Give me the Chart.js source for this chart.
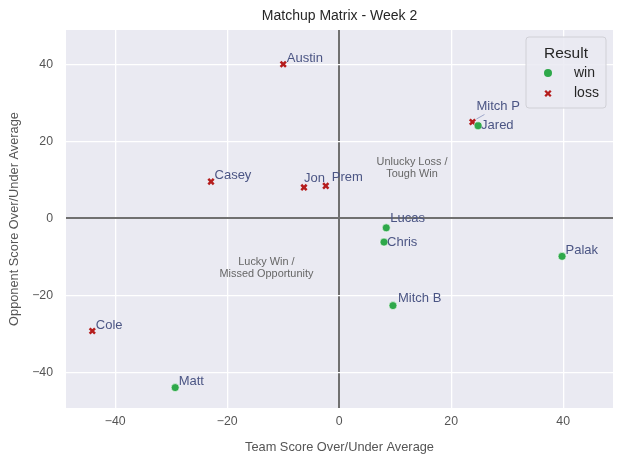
<!DOCTYPE html>
<html>
<head>
<meta charset="utf-8">
<script src="https://cdn.jsdelivr.net/npm/chart.js@4.4.0/dist/chart.umd.min.js"></script>
<style>
html, body { margin: 0; padding: 0; background: #fff; }
#wrap { width: 624px; height: 464px; }
</style>
</head>
<body>
<div id="wrap"><canvas id="matchupChart" width="624" height="464"></canvas></div>
<script>
// data
var players = ['Austin', 'Casey', 'Jon', 'Prem', 'Mitch P', 'Cole', 'Jared', 'Lucas', 'Chris', 'Palak', 'Mitch B', 'Matt'];
var teamDiff = [-10.0, -22.9, -6.3, -2.4, 23.8, -44.1, 24.8, 8.4, 8.0, 39.8, 9.6, -29.3];
var oppDiff = [40.0, 9.5, 8.0, 8.4, 25.0, -29.3, 24.0, -2.5, -6.2, -9.9, -22.7, -44.0];
var results = ['loss', 'loss', 'loss', 'loss', 'loss', 'loss', 'win', 'win', 'win', 'win', 'win', 'win'];
var resultOrder = ['win', 'loss'];
var xTicks = [-40, -20, 0, 20, 40];
var yTicks = [-40, -20, 0, 20, 40];
var quadrantNotes = [
    { x: 13, y: 13, lines: ['Unlucky Loss /', 'Tough Win'] },
    { x: -13, y: -13, lines: ['Lucky Win /', 'Missed Opportunity'] }
];

var FONT = '"Liberation Sans", Arial, sans-serif';
var colors = { win: '#2ea84a', loss: '#b51d1d' };
var labelColor = '#4b5584';
// nudges for names that overlap (px)
var labelNudge = {
    'Mitch P': [4, -16], 'Jared': [3, 0], 'Lucas': [4, -9], 'Chris': [3, 0],
    'Jon': [0, -9], 'Prem': [6, -8], 'Mitch B': [5, -7]
};

function buildData(res) {
    var pts = [];
    for (var i = 0; i < players.length; i++) {
        if (results[i] === res) pts.push({ x: teamDiff[i], y: oppDiff[i], name: players[i] });
    }
    return pts;
}

var datasets = resultOrder.map(function (res) {
    var isWin = res === 'win';
    return {
        label: res,
        data: buildData(res),
        pointStyle: isWin ? 'circle' : 'crossRot',
        pointRadius: isWin ? 4 : 3.8,
        pointHoverRadius: isWin ? 4 : 3.8,
        backgroundColor: colors[res],
        borderColor: isWin ? '#ffffff' : colors[res],
        borderWidth: isWin ? 0.6 : 2.5
    };
});

var fmt = function (v) { return v < 0 ? '\u2212' + Math.abs(v) : String(v); };

var decorPlugin = {
    id: 'decor',
    beforeDraw: function (chart) {
        var a = chart.chartArea, ctx = chart.ctx;
        ctx.save();
        ctx.fillStyle = '#eaeaf2';
        ctx.fillRect(a.left, a.top, a.right - a.left, a.bottom - a.top);
        ctx.restore();
    },
    afterDatasetsDraw: function (chart) {
        var ctx = chart.ctx, xs = chart.scales.x, ys = chart.scales.y;
        ctx.save();
        // quadrant notes
        ctx.fillStyle = '#666666';
        ctx.font = '10.9px ' + FONT;
        ctx.textAlign = 'center';
        ctx.textBaseline = 'middle';
        quadrantNotes.forEach(function (n) {
            var cx = xs.getPixelForValue(n.x), cy = ys.getPixelForValue(n.y);
            var lh = 12, start = cy - lh * (n.lines.length - 1) / 2;
            n.lines.forEach(function (t, k) { ctx.fillText(t, cx, start + k * lh); });
        });
        // player names
        ctx.font = '13px ' + FONT;
        ctx.textAlign = 'left';
        ctx.fillStyle = labelColor;
        chart.data.datasets.forEach(function (ds, di) {
            var meta = chart.getDatasetMeta(di);
            meta.data.forEach(function (el, j) {
                var name = ds.data[j].name;
                var nd = labelNudge[name] || [3.5, -6];
                var tx = el.x + nd[0], ty = el.y + nd[1];
                if (name === 'Mitch P') {
                    ctx.strokeStyle = '#8a96c0';
                    ctx.lineWidth = 0.8;
                    ctx.beginPath();
                    ctx.moveTo(el.x + 4, el.y - 3);
                    ctx.lineTo(el.x + 12, el.y - 7.5);
                    ctx.stroke();
                }
                ctx.fillText(name, tx, ty);
            });
        });
        ctx.restore();
    },
    afterDraw: function (chart) {
        var ctx = chart.ctx, a = chart.chartArea;
        ctx.save();
        // title
        ctx.fillStyle = '#262626';
        ctx.font = '14px ' + FONT;
        ctx.textAlign = 'center';
        ctx.textBaseline = 'middle';
        ctx.fillText('Matchup Matrix - Week 2', (a.left + a.right) / 2, 16);
        // legend box
        var bx = a.right - 87, by = a.top + 7, bw = 80, bh = 71;
        ctx.beginPath();
        ctx.roundRect(bx, by, bw, bh, 3);
        ctx.fillStyle = 'rgba(234,234,242,0.85)';
        ctx.fill();
        ctx.strokeStyle = '#d0d0d6';
        ctx.lineWidth = 1;
        ctx.stroke();
        ctx.fillStyle = '#262626';
        ctx.font = '15.5px ' + FONT;
        ctx.fillText('Result', bx + bw / 2, by + 17);
        ctx.font = '14px ' + FONT;
        ctx.textAlign = 'left';
        chart.data.datasets.forEach(function (ds, i) {
            var my = by + 36 + i * 20.5, mx = bx + 22;
            if (ds.pointStyle === 'circle') {
                ctx.beginPath();
                ctx.arc(mx, my, 4, 0, Math.PI * 2);
                ctx.fillStyle = ds.backgroundColor;
                ctx.fill();
            } else {
                ctx.strokeStyle = ds.backgroundColor;
                ctx.lineWidth = 2.3;
                ctx.beginPath();
                ctx.moveTo(mx - 2.8, my - 2.8); ctx.lineTo(mx + 2.8, my + 2.8);
                ctx.moveTo(mx + 2.8, my - 2.8); ctx.lineTo(mx - 2.8, my + 2.8);
                ctx.stroke();
            }
            ctx.fillStyle = '#262626';
            ctx.fillText(ds.label, bx + 48, my);
        });
        ctx.restore();
    }
};

var gridColor = function (c) { return c.tick && c.tick.value === 0 ? '#707070' : '#ffffff'; };
var gridWidth = function (c) { return c.tick && c.tick.value === 0 ? 2 : 1.3; };

var ctxM = document.getElementById('matchupChart').getContext('2d');
var matchupChart = new Chart(ctxM, {
    type: 'scatter',
    data: { datasets: datasets },
    plugins: [decorPlugin],
    options: {
        responsive: false,
        animation: false,
        layout: { padding: { top: 30, right: 11, left: 0, bottom: 0 } },
        plugins: {
            legend: { display: false },
            tooltip: { enabled: false },
            title: { display: false }
        },
        scales: {
            x: {
                type: 'linear',
                min: -48.8,
                max: 48.9,
                afterBuildTicks: function (s) { s.ticks = xTicks.map(function (v) { return { value: v }; }); },
                afterFit: function (s) { s.height = 56; },
                border: { display: false },
                grid: { color: gridColor, lineWidth: gridWidth, drawTicks: false },
                ticks: {
                    padding: 6,
                    color: '#555555',
                    font: { family: FONT, size: 12.3 },
                    callback: fmt
                },
                title: {
                    display: true,
                    text: 'Team Score Over/Under Average',
                    color: '#555555',
                    font: { family: FONT, size: 12.8 },
                    padding: { top: 0, bottom: 9 }
                }
            },
            y: {
                type: 'linear',
                min: -49.3,
                max: 48.9,
                afterBuildTicks: function (s) { s.ticks = yTicks.map(function (v) { return { value: v }; }); },
                afterFit: function (s) { s.width = 66; },
                border: { display: false },
                grid: { color: gridColor, lineWidth: gridWidth, drawTicks: false },
                ticks: {
                    padding: 13,
                    color: '#555555',
                    font: { family: FONT, size: 12.3 },
                    callback: fmt
                },
                title: {
                    display: true,
                    text: 'Opponent Score Over/Under Average',
                    color: '#555555',
                    font: { family: FONT, size: 12.8 },
                    padding: { top: 7, bottom: 0 }
                }
            }
        }
    }
});
</script>
</body>
</html>
